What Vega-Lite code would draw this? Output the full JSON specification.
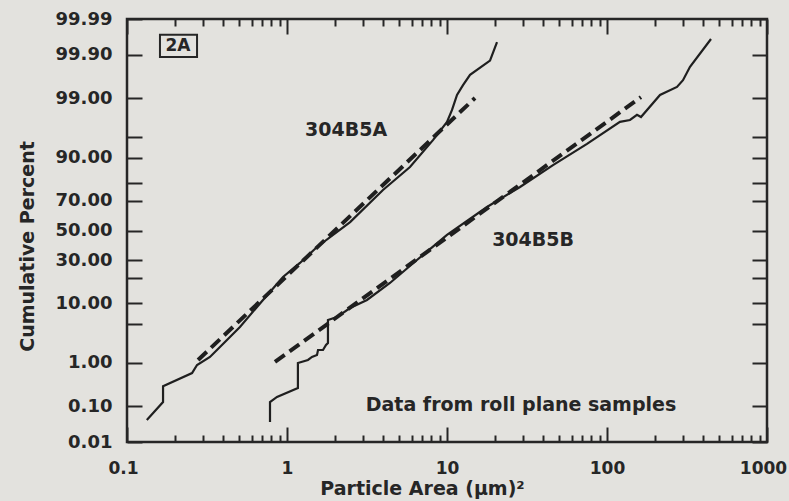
{
  "$schema": "https://vega.github.io/schema/vega-lite/v6.json",
  "width": 640,
  "height": 423,
  "autosize": {"type": "none"},
  "padding": {"left": 127, "top": 19, "right": 22, "bottom": 59},
  "background": "#e3e2de",
  "config": {
    "view": {"stroke": "#262626", "strokeWidth": 2.5},
    "font": "DejaVu Sans"
  },
  "data": {
    "values": [
      {"kind": "curve", "series": "304B5A", "i": 1, "area": 0.133, "pct": 0.043},
      {"kind": "curve", "series": "304B5A", "i": 2, "area": 0.168, "pct": 0.128},
      {"kind": "curve", "series": "304B5A", "i": 3, "area": 0.168, "pct": 0.31},
      {"kind": "curve", "series": "304B5A", "i": 4, "area": 0.255, "pct": 0.61},
      {"kind": "curve", "series": "304B5A", "i": 5, "area": 0.274, "pct": 0.9},
      {"kind": "curve", "series": "304B5A", "i": 6, "area": 0.33, "pct": 1.31},
      {"kind": "curve", "series": "304B5A", "i": 7, "area": 0.381, "pct": 2.02},
      {"kind": "curve", "series": "304B5A", "i": 8, "area": 0.508, "pct": 4.5},
      {"kind": "curve", "series": "304B5A", "i": 9, "area": 0.708, "pct": 11.1},
      {"kind": "curve", "series": "304B5A", "i": 10, "area": 0.944, "pct": 20.7},
      {"kind": "curve", "series": "304B5A", "i": 11, "area": 1.205, "pct": 28.4},
      {"kind": "curve", "series": "304B5A", "i": 12, "area": 1.54, "pct": 38.6},
      {"kind": "curve", "series": "304B5A", "i": 13, "area": 2.48, "pct": 55.9},
      {"kind": "curve", "series": "304B5A", "i": 14, "area": 3.98, "pct": 76.2},
      {"kind": "curve", "series": "304B5A", "i": 15, "area": 5.87, "pct": 86.8},
      {"kind": "curve", "series": "304B5A", "i": 16, "area": 8.17, "pct": 94.4},
      {"kind": "curve", "series": "304B5A", "i": 17, "area": 10.0, "pct": 97.2},
      {"kind": "curve", "series": "304B5A", "i": 18, "area": 10.75, "pct": 98.3},
      {"kind": "curve", "series": "304B5A", "i": 19, "area": 11.55, "pct": 99.14},
      {"kind": "curve", "series": "304B5A", "i": 20, "area": 12.59, "pct": 99.47},
      {"kind": "curve", "series": "304B5A", "i": 21, "area": 13.93, "pct": 99.69},
      {"kind": "curve", "series": "304B5A", "i": 22, "area": 18.57, "pct": 99.86},
      {"kind": "curve", "series": "304B5A", "i": 23, "area": 20.54, "pct": 99.954},
      {"kind": "curve", "series": "304B5B", "i": 1, "area": 0.783, "pct": 0.038},
      {"kind": "curve", "series": "304B5B", "i": 2, "area": 0.783, "pct": 0.128},
      {"kind": "curve", "series": "304B5B", "i": 3, "area": 0.866, "pct": 0.171},
      {"kind": "curve", "series": "304B5B", "i": 4, "area": 1.17, "pct": 0.28},
      {"kind": "curve", "series": "304B5B", "i": 5, "area": 1.17, "pct": 0.99},
      {"kind": "curve", "series": "304B5B", "i": 6, "area": 1.352, "pct": 1.14},
      {"kind": "curve", "series": "304B5B", "i": 7, "area": 1.432, "pct": 1.31},
      {"kind": "curve", "series": "304B5B", "i": 8, "area": 1.54, "pct": 1.43},
      {"kind": "curve", "series": "304B5B", "i": 9, "area": 1.563, "pct": 1.78},
      {"kind": "curve", "series": "304B5B", "i": 10, "area": 1.679, "pct": 1.78},
      {"kind": "curve", "series": "304B5B", "i": 11, "area": 1.753, "pct": 2.21},
      {"kind": "curve", "series": "304B5B", "i": 12, "area": 1.803, "pct": 2.4},
      {"kind": "curve", "series": "304B5B", "i": 13, "area": 1.803, "pct": 5.78},
      {"kind": "curve", "series": "304B5B", "i": 14, "area": 2.054, "pct": 6.4},
      {"kind": "curve", "series": "304B5B", "i": 15, "area": 2.477, "pct": 8.65},
      {"kind": "curve", "series": "304B5B", "i": 16, "area": 3.162, "pct": 11.1},
      {"kind": "curve", "series": "304B5B", "i": 17, "area": 4.4, "pct": 17.8},
      {"kind": "curve", "series": "304B5B", "i": 18, "area": 6.49, "pct": 30.2},
      {"kind": "curve", "series": "304B5B", "i": 19, "area": 10.0, "pct": 46.9},
      {"kind": "curve", "series": "304B5B", "i": 20, "area": 17.78, "pct": 66.0},
      {"kind": "curve", "series": "304B5B", "i": 21, "area": 28.6, "pct": 77.8},
      {"kind": "curve", "series": "304B5B", "i": 22, "area": 45.97, "pct": 87.5},
      {"kind": "curve", "series": "304B5B", "i": 23, "area": 75.0, "pct": 93.6},
      {"kind": "curve", "series": "304B5B", "i": 24, "area": 120.5, "pct": 97.2},
      {"kind": "curve", "series": "304B5B", "i": 25, "area": 139.2, "pct": 97.4},
      {"kind": "curve", "series": "304B5B", "i": 26, "area": 154.0, "pct": 97.9},
      {"kind": "curve", "series": "304B5B", "i": 27, "area": 163.1, "pct": 97.7},
      {"kind": "curve", "series": "304B5B", "i": 28, "area": 214.4, "pct": 99.14},
      {"kind": "curve", "series": "304B5B", "i": 29, "area": 273.8, "pct": 99.42},
      {"kind": "curve", "series": "304B5B", "i": 30, "area": 298.5, "pct": 99.59},
      {"kind": "curve", "series": "304B5B", "i": 31, "area": 330.2, "pct": 99.8},
      {"kind": "curve", "series": "304B5B", "i": 32, "area": 446.7, "pct": 99.962},
      {"kind": "fit", "series": "304B5A", "i": 1, "area": 0.278, "pct": 1.14},
      {"kind": "fit", "series": "304B5A", "i": 2, "area": 14.96, "pct": 99.01},
      {"kind": "fit", "series": "304B5B", "i": 1, "area": 0.841, "pct": 1.04},
      {"kind": "fit", "series": "304B5B", "i": 2, "area": 163.1, "pct": 99.05},
      {"kind": "label", "text": "304B5A", "size": "big", "area": 2.34, "pct": 96.1},
      {"kind": "label", "text": "304B5B", "size": "big", "area": 34.5, "pct": 43.4},
      {"kind": "label", "text": "Data from roll plane samples", "size": "big", "area": 29.0, "pct": 0.108},
      {"kind": "label", "text": "2A", "size": "small", "area": 0.208, "pct": 99.941},
      {"kind": "box", "area": 0.1607, "area2": 0.274, "pct": 99.886, "pct2": 99.971}
    ]
  },
  "transform": [
    {"calculate": "quantileNormal(datum.pct / 100)", "as": "z"},
    {"calculate": "isValid(datum.pct2) ? quantileNormal(datum.pct2 / 100) : null", "as": "z2"}
  ],
  "layer": [
    {
      "transform": [{"filter": "datum.kind == 'curve'"}],
      "mark": {"type": "line", "color": "#1f1f1f", "strokeWidth": 2.2},
      "encoding": {
        "x": {
          "field": "area", "type": "quantitative",
          "scale": {"type": "log", "domain": [0.1, 1000], "nice": false},
          "axis": {
            "orient": "bottom",
            "values": [0.1, 0.2, 0.3, 0.4, 0.5, 0.6, 0.7, 0.8, 0.9, 1, 2, 3, 4, 5, 6, 7, 8, 9, 10, 20, 30, 40, 50, 60, 70, 80, 90, 100, 200, 300, 400, 500, 600, 700, 800, 900, 1000],
            "title": "Particle Area (µm)²",
            "domain": false, "grid": false,
            "tickSize": {"condition": {"test": "datum.value == 0.1 || datum.value == 1 || datum.value == 10 || datum.value == 100 || datum.value == 1000", "value": -15}, "value": -7},
            "tickWidth": 2, "tickColor": "#262626",
            "labelExpr": "(datum.value == 0.1 || datum.value == 1 || datum.value == 10 || datum.value == 100 || datum.value == 1000) ? toString(datum.value) : ''",
            "labelFont": "DejaVu Sans", "labelFontWeight": "bold", "labelFontSize": 17, "labelColor": "#262626",
            "labelOffset": {"condition": {"test": "datum.value == 0.1 || datum.value == 1000", "value": -4}, "value": 0},
            "labelPadding": 33, "labelFlush": false, "labelOverlap": false, "labelBound": false,
            "titleFont": "DejaVu Sans", "titleFontWeight": "bold", "titleFontSize": 19, "titleColor": "#262626",
            "titleX": 295, "titleY": 46, "titleBaseline": "middle", "titleAlign": "center"
          }
        },
        "y": {
          "field": "z", "type": "quantitative",
          "scale": {"domain": [-3.719016, 3.719016], "zero": false, "nice": false},
          "axis": {
            "orient": "left",
            "values": [-3.719016, -3.090232, -2.326348, -1.644854, -1.281552, -0.841621, -0.524401, 0, 0.524401, 0.841621, 1.281552, 1.644854, 2.326348, 3.090232, 3.719016],
            "title": "Cumulative Percent",
            "domain": false, "grid": false,
            "tickSize": -15, "tickWidth": 2, "tickColor": "#262626",
            "labelExpr": "indexof([5, 20, 80, 95], round(cumulativeNormal(datum.value) * 100)) >= 0 ? '' : format(cumulativeNormal(datum.value) * 100, '.2f')",
            "labelFont": "DejaVu Sans", "labelFontWeight": "bold", "labelFontSize": 18, "labelColor": "#262626",
            "labelPadding": 30, "labelOverlap": false, "labelBound": false, "labelFlush": false,
            "titleFont": "DejaVu Sans", "titleFontWeight": "bold", "titleFontSize": 19, "titleColor": "#262626",
            "titleX": -100, "titleY": 227, "titleBaseline": "middle", "titleAlign": "center", "titleAngle": 270
          }
        },
        "detail": {"field": "series"},
        "order": {"field": "i", "type": "quantitative"}
      }
    },
    {
      "transform": [{"filter": "datum.kind == 'fit'"}],
      "mark": {"type": "line", "color": "#1f1f1f", "strokeWidth": 4, "strokeDash": [12, 6]},
      "encoding": {
        "x": {
          "field": "area", "type": "quantitative",
          "scale": {"type": "log", "domain": [0.1, 1000], "nice": false},
          "axis": {
            "orient": "top",
            "values": [0.1, 0.2, 0.3, 0.4, 0.5, 0.6, 0.7, 0.8, 0.9, 1, 2, 3, 4, 5, 6, 7, 8, 9, 10, 20, 30, 40, 50, 60, 70, 80, 90, 100, 200, 300, 400, 500, 600, 700, 800, 900, 1000],
            "title": null, "labels": false, "domain": false, "grid": false,
            "tickSize": {"condition": {"test": "datum.value == 0.1 || datum.value == 1 || datum.value == 10 || datum.value == 100 || datum.value == 1000", "value": -15}, "value": -7},
            "tickWidth": 2, "tickColor": "#262626"
          }
        },
        "y": {
          "field": "z", "type": "quantitative",
          "scale": {"domain": [-3.719016, 3.719016], "zero": false, "nice": false},
          "axis": {
            "orient": "right",
            "values": [-3.719016, -3.090232, -2.326348, -1.644854, -1.281552, -0.841621, -0.524401, 0, 0.524401, 0.841621, 1.281552, 1.644854, 2.326348, 3.090232, 3.719016],
            "title": null, "labels": false, "domain": false, "grid": false,
            "tickSize": -15, "tickWidth": 2, "tickColor": "#262626"
          }
        },
        "detail": {"field": "series"},
        "order": {"field": "i", "type": "quantitative"}
      }
    },
    {
      "transform": [{"filter": "datum.kind == 'label'"}],
      "mark": {"type": "text", "font": "DejaVu Sans", "fontWeight": "bold", "color": "#262626", "align": "center", "baseline": "middle"},
      "encoding": {
        "x": {"field": "area", "type": "quantitative", "scale": {"type": "log", "domain": [0.1, 1000], "nice": false}, "axis": null},
        "y": {"field": "z", "type": "quantitative", "scale": {"domain": [-3.719016, 3.719016], "zero": false, "nice": false}, "axis": null},
        "text": {"field": "text"},
        "size": {"field": "size", "type": "nominal", "scale": {"domain": ["big", "small"], "range": [19, 17]}, "legend": null}
      }
    },
    {
      "transform": [{"filter": "datum.kind == 'box'"}],
      "mark": {"type": "rect", "fill": null, "stroke": "#262626", "strokeWidth": 2},
      "encoding": {
        "x": {"field": "area", "type": "quantitative", "scale": {"type": "log", "domain": [0.1, 1000], "nice": false}, "axis": null},
        "x2": {"field": "area2"},
        "y": {"field": "z", "type": "quantitative", "scale": {"domain": [-3.719016, 3.719016], "zero": false, "nice": false}, "axis": null},
        "y2": {"field": "z2"}
      }
    }
  ],
  "resolve": {"axis": {"x": "independent", "y": "independent"}}
}
